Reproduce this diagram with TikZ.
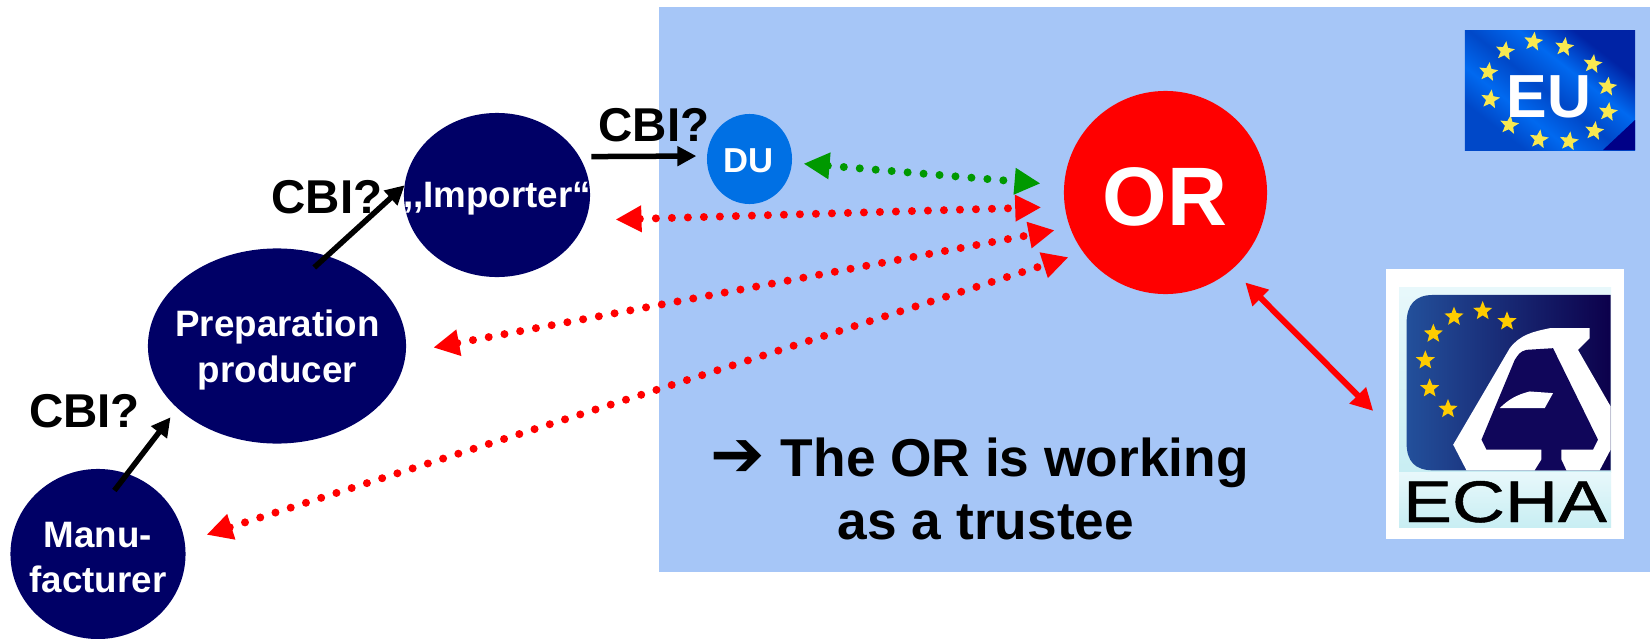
\documentclass[tikz,border=0pt]{standalone}
\usepackage{fontspec}
\setmainfont{Liberation Sans}
\newfontfamily\arrowfont{DejaVu Sans}
\newfontfamily\echafont[FakeBold=0.8]{Liberation Sans}
\usetikzlibrary{arrows.meta,shapes.geometric}

\definecolor{panelblue}{RGB}{166,198,247}
\definecolor{actornavy}{RGB}{0,0,102}
\definecolor{dublue}{RGB}{0,112,228}
\definecolor{dotgreen}{RGB}{0,153,0}
\definecolor{flagstar}{RGB}{248,232,80}
\definecolor{flagbright}{RGB}{0,105,240}
\definecolor{flagmid}{RGB}{0,72,200}
\definecolor{flagdark}{RGB}{0,35,165}
\definecolor{flagcorner}{RGB}{0,0,135}
\definecolor{echagold}{RGB}{255,204,0}
\definecolor{echadark}{RGB}{16,6,90}
\definecolor{echaleft}{RGB}{35,80,155}
\definecolor{echaright}{RGB}{12,0,75}
\definecolor{echapale}{RGB}{232,248,251}
\definecolor{echacyan}{RGB}{200,238,243}
\pgfdeclareverticalshading{flagwave}{100bp}{
  color(0bp)=(flagmid);
  color(28bp)=(flagmid);
  color(38bp)=(flagbright);
  color(49bp)=(flagmid);
  color(60bp)=(flagbright);
  color(72bp)=(flagdark);
  color(100bp)=(flagdark)}
\pgfdeclarehorizontalshading{echalogo}{100bp}{
  color(0bp)=(echaleft);
  color(25bp)=(echaleft);
  color(75bp)=(echaright);
  color(100bp)=(echaright)}

\tikzset{
  actor/.style={ellipse,fill=actornavy,inner sep=0pt,outer sep=0pt},
  whitetext/.style={text=white,font=\fontsize{10.45}{12.8}\selectfont\bfseries,align=center,inner sep=0pt},
  cbitext/.style={anchor=base,inner sep=0pt,font=\fontsize{13.5}{13.5}\selectfont\bfseries},
  trustee/.style={inner sep=0pt,font=\fontsize{15.15}{15.15}\selectfont\bfseries},
  cbiarrow/.style={line width=0.055cm,-{Triangle[length=0.19cm,width=0.19cm]}},
  dotted link/.style={line width=0.08cm,line cap=round,dash pattern=on 0pt off 0.16cm,
    {Triangle[length=0.26cm,width=0.25cm]}-{Triangle[length=0.26cm,width=0.25cm]}},
  star shape/.style={star,star points=5,star point ratio=2.3,inner sep=0pt,minimum size=#1}
}

\begin{document}
\begin{tikzpicture}[x=0.01cm,y=-0.01cm]
  \useasboundingbox (0,0) rectangle (1650,639);

  % Panel
  \fill[panelblue] (659,7) rectangle (1650,572);

  % Actors
  \node[actor,minimum width=1.75cm,minimum height=1.7cm] (manu) at (98,554) {};
  \node[actor,minimum width=2.58cm,minimum height=1.95cm] (prep) at (277,346) {};
  \node[actor,minimum width=1.86cm,minimum height=1.64cm] (importer) at (497,195) {};
  \node[ellipse,fill=dublue,inner sep=0pt,minimum width=0.85cm,minimum height=0.9cm] (du) at (749.5,159) {};
  \node[circle,fill=red,inner sep=0pt,minimum size=2.03cm] (or) at (1165.5,192.5) {};

  % Actor labels
  \node[whitetext] (manutext) at (98,558) {Manu-\\facturer};
  \node[whitetext] (preptext) at (277.5,350) {Preparation\\producer};
  \node[whitetext,anchor=base] (importertext) at (497,207) {,{},Importer“};
  \node[whitetext,anchor=base,font=\fontsize{9.85}{9.85}\selectfont\bfseries] (dutext) at (749,172.5) {DU};
  \node[whitetext,anchor=base,font=\fontsize{23.6}{23.6}\selectfont\bfseries] (ortext) at (1165,225) {OR};

  % EU flag
  \node[rectangle,inner sep=0pt,minimum width=1.7cm,minimum height=1.19cm,shading=flagwave,shading angle=-38] (flag) at (1550,90.5) {};
  \fill[flagcorner] (1635,120) -- (1635,150) -- (1603,150) -- cycle;
  \foreach \i/\x/\y in {1/405/153,2/490/125,3/583/141,4/668/192,5/712/260,6/714/336,
                        7/673/393,8/597/424,9/507/418,10/418/375,11/361/298,12/355/216} {
    \node[star shape=0.2cm,fill=flagstar,rotate=-8] (flagstar\i) at (1370+\x/3,\y/3) {};
  }
  \node[whitetext,anchor=base,font=\fontsize{17.3}{17.3}\selectfont\bfseries] (eutext) at (1549,117) {EU};

  % ECHA logo
  \node[rectangle,fill=white,inner sep=0pt,minimum width=2.38cm,minimum height=2.7cm] (echa) at (1505,404) {};
  \shade[top color=echapale,bottom color=echacyan] (1399,287) rectangle (1611,472);
  \shade[top color=echapale,bottom color=echacyan] (1399,472) rectangle (1611,527);
  \begin{scope}[shift={(1370,260)},x=0.00333cm,y=-0.00333cm]
    \shade[shading=echalogo] (723,105) -- (190,105) .. controls (135,105) and (110,135) .. (110,190)
      -- (110,550) .. controls (110,605) and (135,632) .. (190,632) -- (723,632) -- (723,105) -- cycle;
    \fill[white] (660,205) -- (540,205) .. controls (490,215) and (450,225) .. (420,265) -- (250,555)
      -- (290,632) -- (690,632) -- (723,570) -- (723,440) -- (625,270) -- (660,235) -- cycle;
    \fill[echadark] (550,265) -- (470,270) .. controls (450,275) and (445,285) .. (435,300) -- (335,540)
      -- (350,570) -- (515,570) -- (515,600) -- (495,632) -- (590,632) -- (575,600) -- (575,570)
      -- (670,570) -- (685,540) -- cycle;
    \fill[white] (390,445) -- (525,445) -- (550,400) -- (480,395) .. controls (440,405) and (415,420) .. (390,445) -- cycle;
  \end{scope}
  \foreach \i/\x/\y in {1/338/153,2/252/170,3/411/184,4/190/221,5/166/301,6/179/385,7/234/447} {
    \node[star shape=0.2cm,fill=echagold] (echastar\i) at (1370+\x/3,260+\y/3) {};
  }
  \node[anchor=base,inner sep=0pt,xscale=1.25,font=\echafont\fontsize{16.7}{16.7}\selectfont] (echatext) at (1505,522) {ECHA};

  % CBI arrows
  \draw[cbiarrow,shorten <=-0.21cm,shorten >=0.115cm] (manu.70) -- (prep.212);
  \draw[cbiarrow,shorten <=-0.17cm] (prep.61) -- (importer.174);
  \draw[cbiarrow,shorten <=0.12cm,shorten >=0.1cm] (importer.25) -- (du.176);
  \node[cbitext] (cbithree) at (84.5,427) {CBI?};
  \node[cbitext] (cbitwo) at (327,213) {CBI?};
  \node[cbitext] (cbione) at (654,141) {CBI?};

  % OR links
  \draw[dotted link,color=dotgreen,shorten <=0.11cm,shorten >=0.23cm] (du.-5) -- (or.176);
  \draw[dotted link,color=red,shorten <=0.3cm,shorten >=0.23cm] (importer.-16) -- (or.188);
  \draw[dotted link,color=red,shorten <=0.28cm,shorten >=0.15cm] (prep.-3) -- (or.200.7);
  \draw[dotted link,color=red,shorten <=0.23cm,shorten >=0.15cm] (manu.8) -- (or.216);
  \draw[red,line width=0.06cm,{Triangle[length=0.22cm,width=0.22cm]}-{Triangle[length=0.22cm,width=0.22cm]},shorten <=0.18cm,shorten >=0.17cm] (or.-49) -- (echa.189.5);

  % Note
  \node[trustee,anchor=base west] (noteone) at (710,476) {{\arrowfont\fontsize{18.5}{18.5}\selectfont ➔}\hspace{0.157cm}The OR is working};
  \node[trustee,anchor=base] (notetwo) at (986,539) {as a trustee};
\end{tikzpicture}
\end{document}
